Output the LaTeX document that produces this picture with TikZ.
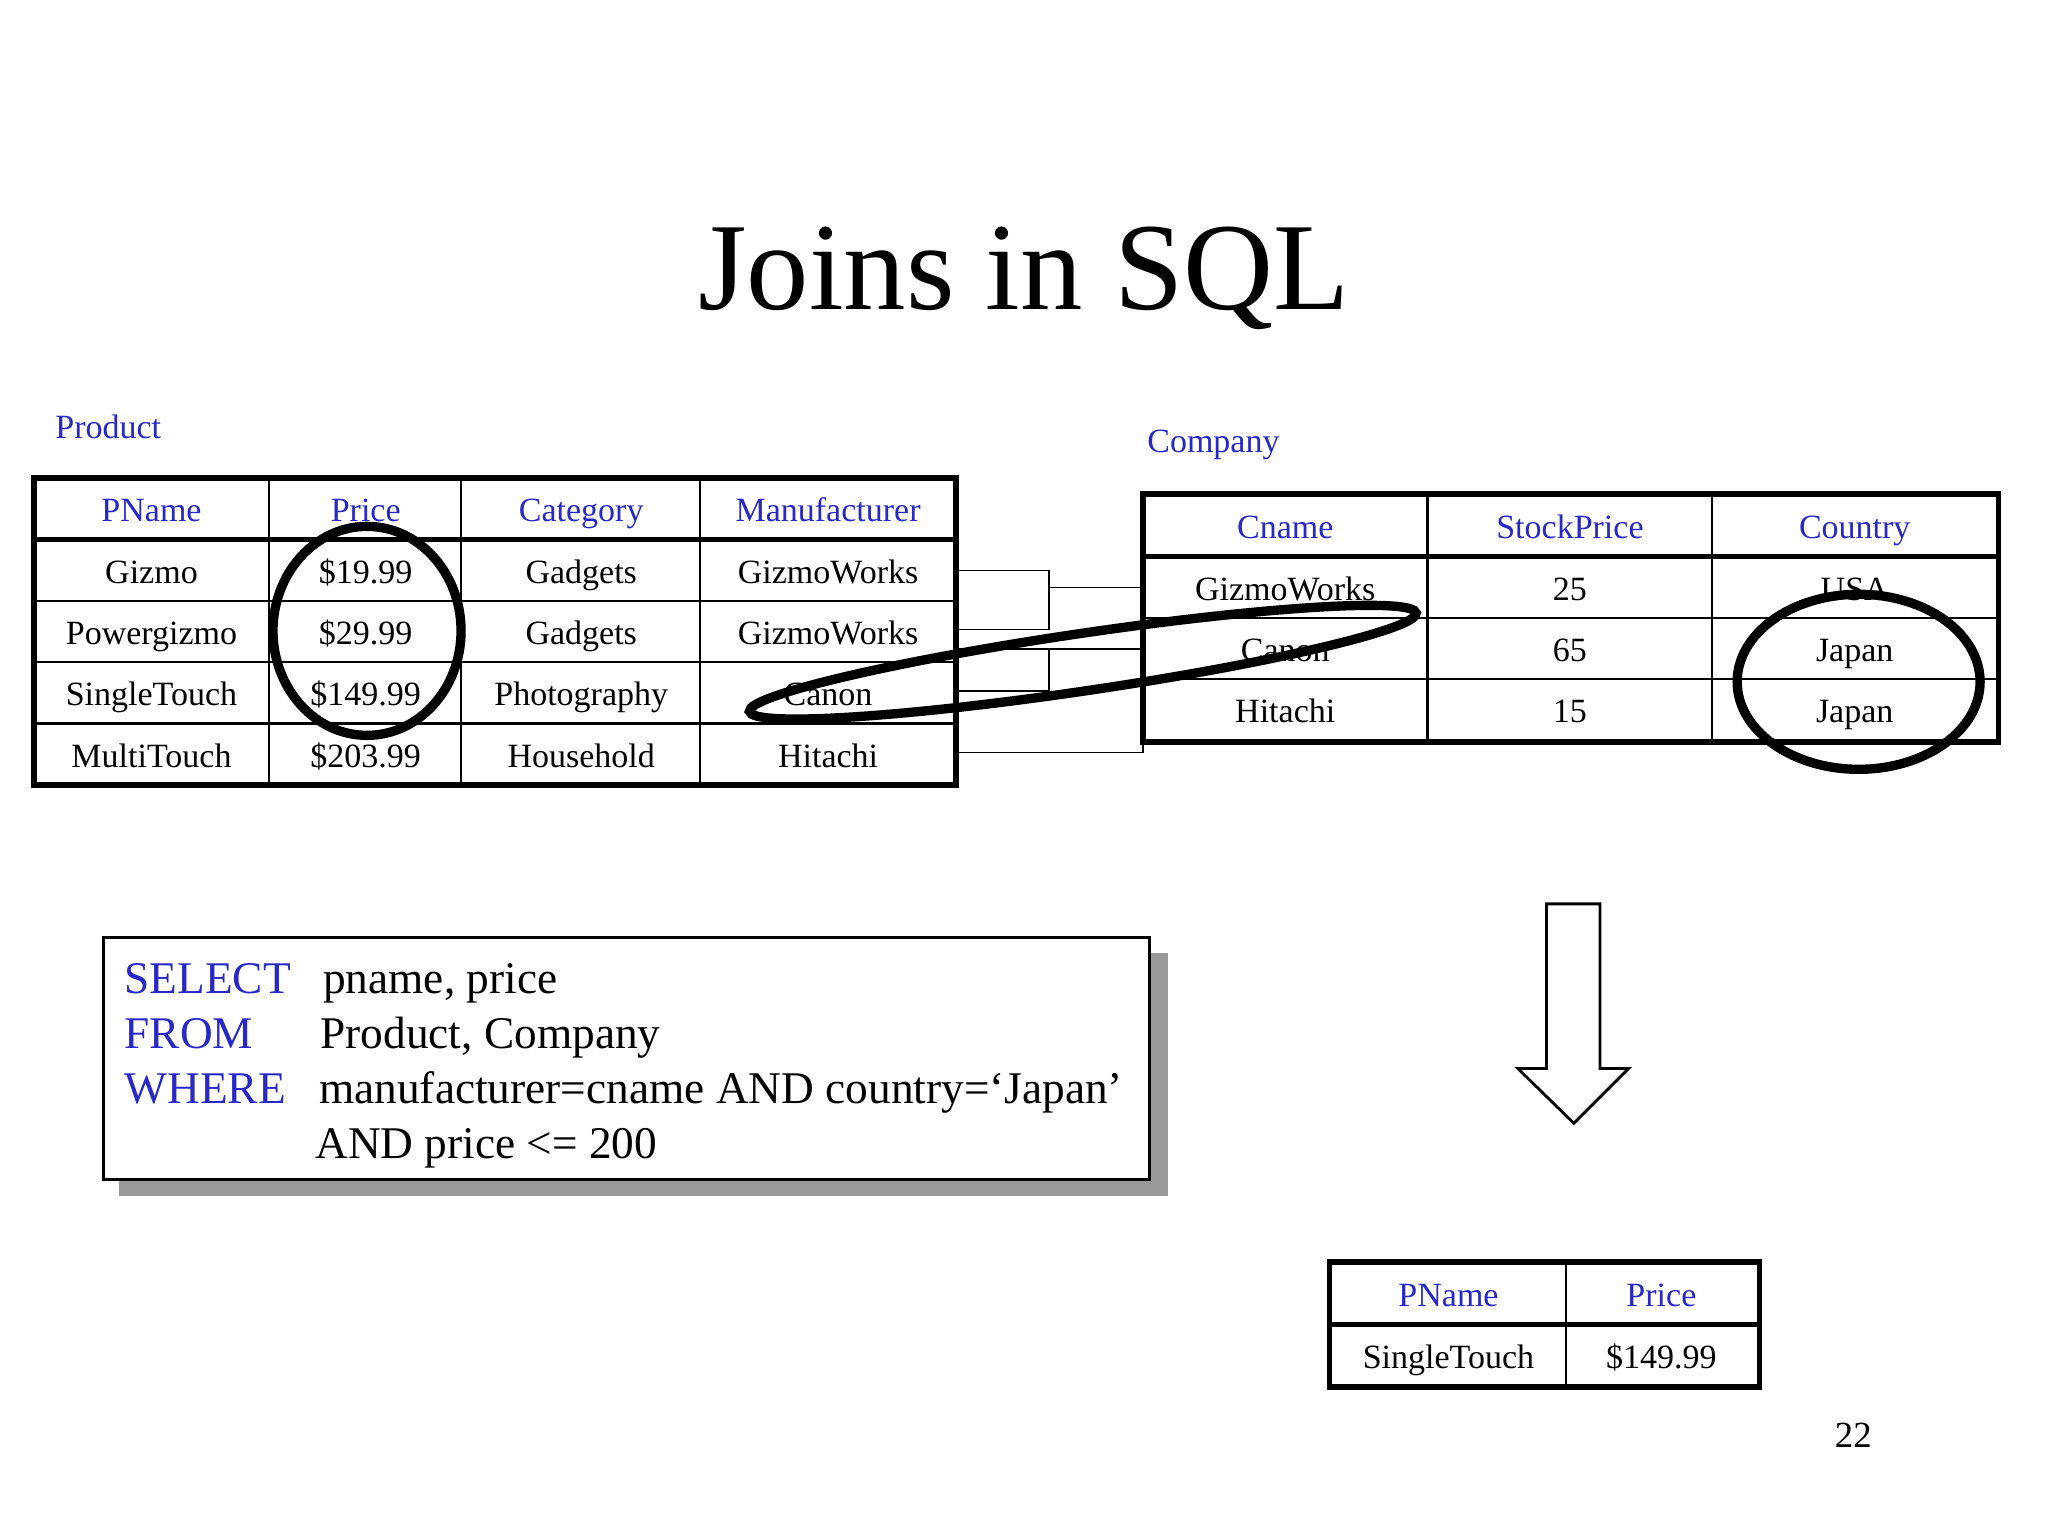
\documentclass[tikz,border=0pt]{standalone}
\usepackage{fontspec}
\setmainfont{Liberation Serif}
\definecolor{hdr}{RGB}{40,40,200}
\begin{document}
\begin{tikzpicture}[x=0.0162cm,y=-0.0162cm,
  cell/.style={font=\fontsize{12}{14}\selectfont,anchor=base,inner sep=0,yshift=-9.5*0.0162cm},
  hd/.style={cell,text=hdr},
  thin/.style={line width=0.8pt},
  thk/.style={line width=2pt},
  ring/.style={line width=3.3pt},
  conn/.style={line width=0.5pt}]
\useasboundingbox (0,0) rectangle (1568,1176);
\node[font=\fontsize{44}{50}\selectfont] (title) at (784,213) {Joins in SQL};
\node[anchor=west,inner sep=0,text=hdr,font=\fontsize{12}{14}\selectfont] (plab) at (42,327) {Product};
\node[anchor=west,inner sep=0,text=hdr,font=\fontsize{12}{14}\selectfont] (clab) at (878,341) {Company};
% Product table
\foreach \x in {206,353,536} \draw[thin] (\x,366) -- (\x,601);
\foreach \y in {460,507,554} \draw[thin] (26,\y) -- (732,\y);
\draw[thk] (26,413) -- (732,413);
\draw[thk] (26,366) rectangle (732,601);
\node[hd] (p0a) at (116,390) {PName};
\node[hd] (p0b) at (280,390) {Price};
\node[hd] (p0c) at (445,390) {Category};
\node[hd] (p0d) at (634,390) {Manufacturer};
\node[cell] (p1a) at (116,437) {Gizmo};
\node[cell] (p1b) at (280,437) {\$19.99};
\node[cell] (p1c) at (445,437) {Gadgets};
\node[cell] (p1d) at (634,437) {GizmoWorks};
\node[cell] (p2a) at (116,484) {Powergizmo};
\node[cell] (p2b) at (280,484) {\$29.99};
\node[cell] (p2c) at (445,484) {Gadgets};
\node[cell] (p2d) at (634,484) {GizmoWorks};
\node[cell] (p3a) at (116,531) {SingleTouch};
\node[cell] (p3b) at (280,531) {\$149.99};
\node[cell] (p3c) at (445,531) {Photography};
\node[cell] (p3d) at (634,531) {Canon};
\node[cell] (p4a) at (116,578) {MultiTouch};
\node[cell] (p4b) at (280,578) {\$203.99};
\node[cell] (p4c) at (445,578) {Household};
\node[cell] (p4d) at (634,578) {Hitachi};
% Company table
\foreach \x in {1093,1311} \draw[thin] (\x,378) -- (\x,568);
\foreach \y in {473,520} \draw[thin] (875,\y) -- (1530,\y);
\draw[thk] (875,426) -- (1530,426);
\draw[thk] (875,378) rectangle (1530,568);
\node[hd] (c0a) at (984,403) {Cname};
\node[hd] (c0b) at (1202,403) {StockPrice};
\node[hd] (c0c) at (1420,403) {Country};
\node[cell] (c1a) at (984,450) {GizmoWorks};
\node[cell] (c1b) at (1202,450) {25};
\node[cell] (c1c) at (1420,450) {USA};
\node[cell] (c2a) at (984,497) {Canon};
\node[cell] (c2b) at (1202,497) {65};
\node[cell] (c2c) at (1420,497) {Japan};
\node[cell] (c3a) at (984,544) {Hitachi};
\node[cell] (c3b) at (1202,544) {15};
\node[cell] (c3c) at (1420,544) {Japan};
% connectors
\coordinate (j1) at (803,450);
\coordinate (j2) at (803,513);
\draw[conn] (732,437) -| (j1) |- (732,482);
\draw[conn] (j1) -- (875,450);
\draw[conn] (732,529) -| (j2) |- (732,497);
\draw[conn] (j2) -- (803,497) -- (875,497);
\draw[conn] (732,576) -- (875,576) -- (875,568);
% rings
\draw[ring] (281,483) ellipse [x radius=72,y radius=80];
\draw[ring] (1423,522) ellipse [x radius=93,y radius=67];
\draw[ring,rotate around={8.4:(829,507)}] (829,507) ellipse [x radius=258,y radius=22];
% arrow
\draw[line width=1pt,fill=white] (1184,692) -- (1225,692) -- (1225,818) -- (1247,818) -- (1205,860) -- (1162,818) -- (1184,818) -- cycle;
% SQL box
\fill[gray!80] (91,730) rectangle (894,916);
\draw[line width=1pt,fill=white] (79,718) rectangle (880,903);
\begin{scope}[every node/.style={anchor=base west,font=\fontsize{16}{19}\selectfont,inner sep=0}]
\node[text=hdr] (s1) at (95,761) {SELECT};
\node (s1b) at (247,761) {pname, price};
\node[text=hdr] (s2) at (95,803) {FROM};
\node (s2b) at (245,803) {Product, Company};
\node[text=hdr] (s3) at (95,845) {WHERE};
\node (s3b) at (244,845) {manufacturer=cname AND country=‘Japan’};
\node (s4b) at (241,887) {AND price <= 200};
\end{scope}
% result
\draw[thin] (1199,966) -- (1199,1062);
\draw[thk] (1018,1014) -- (1347,1014);
\draw[thk] (1018,966) rectangle (1347,1062);
\node[hd] (r0a) at (1109,991) {PName};
\node[hd] (r0b) at (1272,991) {Price};
\node[cell] (r1a) at (1109,1038) {SingleTouch};
\node[cell] (r1b) at (1272,1038) {\$149.99};
\node[font=\fontsize{13}{15}\selectfont] (pg) at (1419,1099) {22};
\end{tikzpicture}
\end{document}
